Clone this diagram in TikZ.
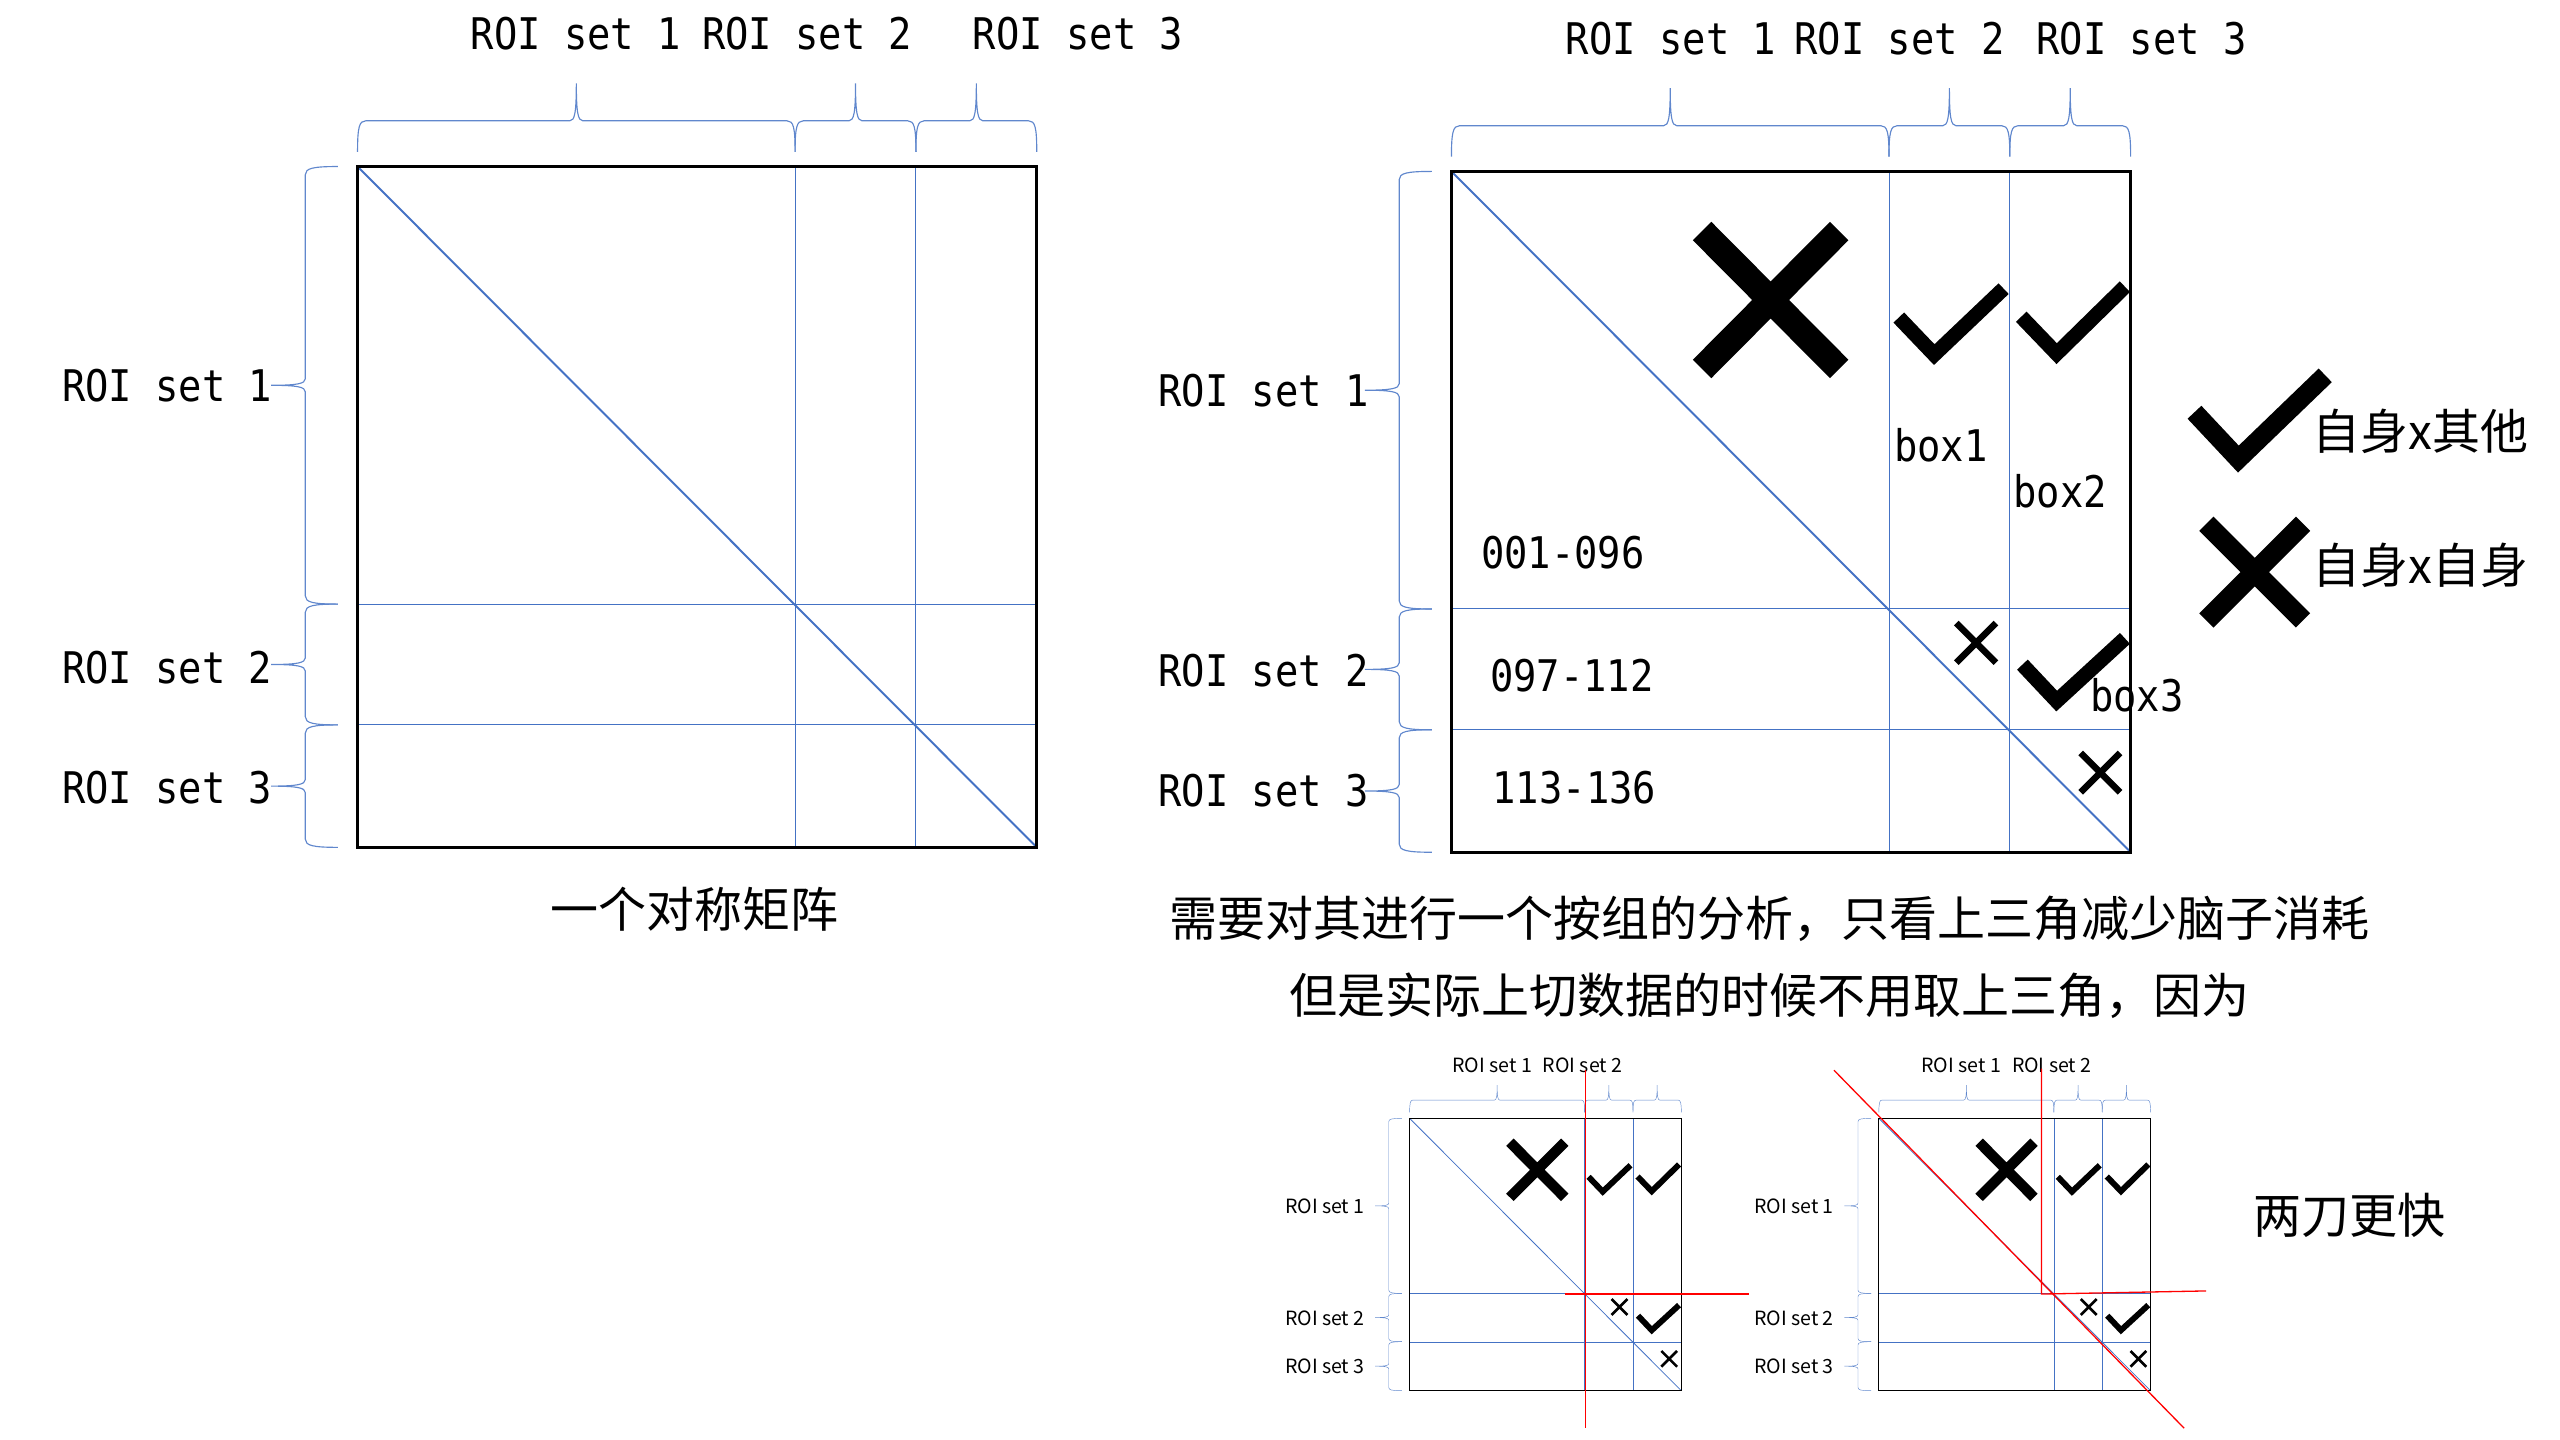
\documentclass[tikz,border=0pt]{standalone}
\usepackage{fontspec}
\setmainfont{Noto Sans CJK SC}
\newfontfamily\roimono[FakeStretch=0.89]{DejaVu Sans Mono}
\definecolor{roiblue}{HTML}{4472C4}
\definecolor{cutred}{HTML}{FF0000}

% brace above the frame, from x=#1 to x=#2
\newcommand{\topbrace}[2]{%
    \pgfmathsetmacro{\bracemid}{(#1+#2)/2}
    \draw[roibrace] (#1,-9) .. controls (#1,-24) and ({#1+1},-28) .. ({#1+5},-28)
        -- ({\bracemid-4},-28) .. controls ({\bracemid-1},-28) and (\bracemid,-33) .. (\bracemid,-51)
        .. controls (\bracemid,-33) and ({\bracemid+1},-28) .. ({\bracemid+4},-28)
        -- ({#2-5},-28) .. controls ({#2-1},-28) and (#2,-24) .. (#2,-9);
}
% brace left of the frame, from y=#1 to y=#2
\newcommand{\sidebrace}[2]{%
    \pgfmathsetmacro{\bracemid}{(#1+#2)/2}
    \draw[roibrace] (-12,#1) .. controls (-27,#1) and (-32,{#1+1}) .. (-32,{#1+5})
        -- (-32,{\bracemid-4}) .. controls (-32,{\bracemid-1}) and (-37,\bracemid) .. (-53,\bracemid)
        .. controls (-37,\bracemid) and (-32,{\bracemid+1}) .. (-32,{\bracemid+4})
        -- (-32,{#2-5}) .. controls (-32,{#2-1}) and (-27,#2) .. (-12,#2);
}
% frame split into the three ROI sets
\newcommand{\roigrid}{%
    \draw[gridline] (268,0) -- (268,417) (342,0) -- (342,417)
        (0,268) -- (416,268) (0,342) -- (416,342);
    \draw[diagline] (0,0) -- (416,417);
    \draw[frame] (0,0) rectangle (416,417);
    \topbrace{0}{268}\topbrace{268}{342}\topbrace{342}{416}
    \sidebrace{0}{268}\sidebrace{268}{342}\sidebrace{342}{417}
}
% crosses and ticks in the blocks
\newcommand{\roimarks}{%
    \draw[cross,line width=16pt] (153.5,36.5) -- (237.5,121) (237.5,36.5) -- (153.5,121);
    \draw[tick] (274,89.5) -- (295.7,112.2) -- (338.2,71.8);
    \draw[tick] (349,89) -- (370.7,111.6) -- (412.5,70.6);
    \draw[cross] (309.2,276.6) -- (333.5,300.9) (333.5,276.6) -- (309.2,300.9);
    \draw[tick] (349.7,302.1) -- (370.7,324.4) -- (412.5,286);
    \draw[cross] (385.4,356.2) -- (409.5,380.3) (409.5,356.2) -- (385.4,380.3);
}

\begin{document}
\begin{tikzpicture}[x=1pt,y=-1pt,
    frame/.style={black,line width=1.6pt},
    gridline/.style={roiblue,line width=0.6pt},
    diagline/.style={roiblue,line width=1.2pt},
    roibrace/.style={roiblue!85,line width=0.7pt},
    cross/.style={black,line width=4pt},
    tick/.style={black,line width=9pt},
    cutline/.style={cutred,line width=0.8pt},
    monolabel/.style={font=\roimono\fontsize{26.7}{30}\selectfont,inner sep=0pt},
    cnlabel/.style={font=\fontsize{29.4}{34}\selectfont,inner sep=0pt},
    smalllabel/.style={font=\fontsize{12}{14}\selectfont,inner sep=0pt}]
    \useasboundingbox (0,0) rectangle (1568,882);

    % symmetric matrix
    \begin{scope}[shift={(219,102)}]
        \roigrid
    \end{scope}
    \node[monolabel] (lt1) at (352.7,20.7) {ROI set 1};
    \node[monolabel] (lt2) at (494.4,20.7) {ROI set 2};
    \node[monolabel] (lt3) at (660.3,20.7) {ROI set 3};
    \node[monolabel,anchor=east] (ll1) at (167,236.5) {ROI set 1};
    \node[monolabel,anchor=east] (ll2) at (167,408.7) {ROI set 2};
    \node[monolabel,anchor=east] (ll3) at (167,482.2) {ROI set 3};
    \node[cnlabel] (sym) at (425.5,557) {一个对称矩阵};

    % grouped matrix
    \begin{scope}[shift={(889,105)}]
        \roigrid
        \roimarks
    \end{scope}
    \node[monolabel] (rt1) at (1023.5,23.7) {ROI set 1};
    \node[monolabel] (rt2) at (1163.4,23.7) {ROI set 2};
    \node[monolabel] (rt3) at (1311.7,23.7) {ROI set 3};
    \node[monolabel,anchor=east] (rl1) at (838.5,239) {ROI set 1};
    \node[monolabel,anchor=east] (rl2) at (838.5,410.5) {ROI set 2};
    \node[monolabel,anchor=east] (rl3) at (838.5,484.3) {ROI set 3};
    \node[monolabel,anchor=west] (rng1) at (907,338.4) {001-096};
    \node[monolabel,anchor=west] (rng2) at (912.5,413.7) {097-112};
    \node[monolabel,anchor=west] (rng3) at (914,482.5) {113-136};
    \node[monolabel,anchor=base west] (box1) at (1160,282.8) {box1};
    \node[monolabel,anchor=base west] (box2) at (1233,311) {box2};
    \node[monolabel,anchor=base west] (box3) at (1280,435.9) {box3};

    % legend
    \draw[tick,line width=11.6pt] (1344.1,252.5) -- (1371,281.2) -- (1424.2,229.9);
    \draw[cross,line width=12.3pt] (1351.4,320.8) -- (1410.6,380) (1410.6,320.8) -- (1351.4,380);
    \node[cnlabel,anchor=west] (other) at (1416,264) {自身x其他};
    \node[cnlabel,anchor=west] (self) at (1416,346.6) {自身x自身};

    \node[cnlabel] (note1) at (1084,563) {需要对其进行一个按组的分析，只看上三角减少脑子消耗};
    \node[cnlabel] (note2) at (1084,610) {但是实际上切数据的时候不用取上三角，因为};

    % two small copies
    \begin{scope}[transform canvas={shift={(863.4,685)},scale=0.4}]
        \roigrid
        \roimarks
    \end{scope}
    \begin{scope}[transform canvas={shift={(1150.8,685)},scale=0.4}]
        \roigrid
        \roimarks
    \end{scope}
    \node[smalllabel] (at1) at (914,652.7) {ROI set 1};
    \node[smalllabel] (at2) at (969.3,652.7) {ROI set 2};
    \node[smalllabel,anchor=east] (al1) at (836,739.1) {ROI set 1};
    \node[smalllabel,anchor=east] (al2) at (836,807.6) {ROI set 2};
    \node[smalllabel,anchor=east] (al3) at (836,837.1) {ROI set 3};
    \node[smalllabel] (bt1) at (1201.2,652.7) {ROI set 1};
    \node[smalllabel] (bt2) at (1256.7,652.7) {ROI set 2};
    \node[smalllabel,anchor=east] (bl1) at (1123.3,739.1) {ROI set 1};
    \node[smalllabel,anchor=east] (bl2) at (1123.3,807.6) {ROI set 2};
    \node[smalllabel,anchor=east] (bl3) at (1123.3,837.1) {ROI set 3};

    % cuts
    \draw[cutline] (970.9,655.5) -- (970.9,874.8);
    \draw[cutline] (958.3,792.6) -- (1071,792.6);
    \draw[cutline] (1123.3,655.5) -- (1337.8,874.8);
    \draw[cutline] (1250.4,654.5) -- (1250.4,792.6) -- (1351.2,790.7);
    \node[cnlabel] (fast) at (1438.8,744.7) {两刀更快};
\end{tikzpicture}
\end{document}
